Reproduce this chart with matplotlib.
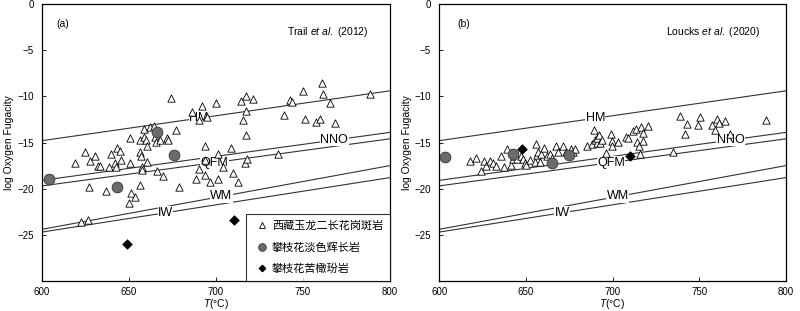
import numpy as np
from matplotlib import pyplot as plt
from matplotlib.lines import Line2D

# 缓冲剂线 (600 °C 与 800 °C 处的 log fO2)
buf_names = ['HM', 'NNO', 'QFM', 'WM', 'IW']
buf_T = [600, 800]
buf_600 = [-14.8, -19.1, -19.7, -24.4, -24.7]
buf_800 = [-9.4, -13.9, -14.6, -17.5, -18.8]
lab_T = [690, 768, 699, 703, 671]

# (a) Trail et al. (2012)
tri_T_a = [619.1, 624.9, 627.4, 627.2, 630.2, 632.0, 633.6, 636.6, 638.3, 639.8, 642.1, 642.5,
           643.1, 644.6, 645.2, 622.6, 626.4, 650.3, 650.7, 651.3, 650.1, 653.6, 656.1, 656.1,
           656.5, 657.0, 657.4, 657.4, 658.4, 658.8, 659.9, 660.3, 660.3, 661.8, 664.1, 664.7,
           665.6, 666.0, 667.9, 669.3, 671.8, 672.7, 674.1, 676.9, 679.0, 686.1, 688.6, 690.1,
           690.5, 691.9, 693.4, 693.4, 693.4, 695.1, 696.7, 700.1, 700.9, 700.9, 704.3, 708.5,
           710.0, 712.5, 714.3, 715.4, 716.7, 717.3, 717.3, 717.3, 718.1, 721.1, 735.9, 739.1,
           742.6, 743.9, 750.2, 751.1, 757.4, 759.7, 761.1, 761.3, 765.6, 768.4, 788.5]
tri_y_a = [-17.2, -16.0, -17.0, -19.8, -16.5, -17.5, -17.5, -20.3, -17.7, -16.2, -17.2, -17.7,
           -15.6, -15.9, -16.9, -23.6, -23.4, -14.5, -17.2, -20.5, -21.6, -20.9, -19.6, -14.7,
           -16.0, -16.5, -17.6, -18.0, -13.5, -14.4, -14.7, -15.4, -17.1, -13.3, -13.2, -14.4,
           -14.9, -18.1, -14.7, -18.6, -14.5, -14.7, -10.2, -13.6, -19.8, -11.7, -19.0, -12.6,
           -17.9, -11.0, -15.4, -16.9, -18.5, -12.2, -19.3, -10.7, -16.2, -19.0, -17.6, -15.6,
           -18.3, -19.3, -10.5, -12.6, -17.2, -10.0, -11.6, -14.2, -16.8, -10.3, -16.2, -12.0,
           -10.4, -10.6, -9.4, -12.4, -12.8, -12.4, -8.6, -9.7, -10.7, -12.9, -9.7]
cir_T_a = [604.2, 643.1, 666.0, 675.6]
cir_y_a = [-19.0, -19.8, -13.9, -16.3]
dia_T_a = [648.8, 710.6]
dia_y_a = [-26.0, -23.4]

# (b) Loucks et al. (2020)
tri_T_b = [617.7, 621.5, 624.0, 626.0, 627.0, 629.2, 631.2, 632.7, 635.6, 637.5, 639.2, 641.3,
           642.3, 643.3, 644.6, 647.1, 648.5, 649.4, 650.0, 652.3, 655.6, 655.2, 656.2, 657.1,
           658.1, 659.0, 660.6, 661.9, 663.8, 664.8, 667.3, 668.7, 671.5, 672.9, 676.3, 677.3,
           678.3, 685.0, 687.9, 689.2, 689.8, 690.8, 691.3, 692.3, 692.7, 694.0, 696.2, 699.0,
           699.4, 699.8, 703.3, 707.7, 709.0, 711.9, 713.5, 714.2, 715.4, 715.8, 716.2, 717.3,
           717.7, 720.2, 735.0, 738.8, 741.7, 743.1, 749.4, 750.4, 757.1, 759.0, 760.4, 761.3,
           764.8, 767.7, 788.3]
tri_y_b = [-17.0, -16.7, -18.1, -17.0, -17.5, -17.0, -17.2, -17.5, -16.5, -17.6, -15.7, -17.4,
           -16.8, -16.5, -16.8, -16.5, -16.8, -17.2, -17.4, -16.9, -15.2, -17.1, -16.3, -16.0,
           -17.1, -16.2, -15.6, -16.5, -16.2, -16.7, -15.4, -16.0, -15.4, -16.0, -15.7, -16.0,
           -15.7, -15.4, -15.2, -13.6, -14.7, -15.1, -14.5, -14.2, -15.1, -14.7, -16.1, -14.1,
           -14.8, -15.4, -14.9, -14.4, -14.5, -13.8, -13.5, -14.9, -15.4, -16.2, -13.3, -14.0,
           -14.8, -13.2, -16.0, -12.1, -14.1, -13.0, -13.1, -12.2, -13.1, -13.6, -12.4, -12.9,
           -12.7, -14.1, -12.6]
cir_T_b = [603.3, 642.7, 665.2, 675.0]
cir_y_b = [-16.6, -16.2, -17.2, -16.3]
dia_T_b = [647.9, 710.0]
dia_y_b = [-15.7, -16.5]

legend_labels = ['西藏玉龙二长花岗斑岩', '攀枝花淡色辉长岩', '攀枝花苦橄玢岩']

plt.rcParams['font.family'] = ['Liberation Sans', 'Noto Sans CJK SC', 'DejaVu Sans']
plt.rcParams['font.size'] = 7
plt.rcParams['mathtext.fontset'] = 'custom'
plt.rcParams['mathtext.rm'] = 'Liberation Sans'
plt.rcParams['mathtext.it'] = 'Liberation Sans:italic'
plt.rcParams['xtick.direction'] = 'in'
plt.rcParams['ytick.direction'] = 'in'

fig = plt.figure(figsize=(8, 3.11), dpi=100)
ax1 = fig.add_axes([0.0525, 0.0965, 0.435, 0.8905])
ax2 = fig.add_axes([0.549, 0.0965, 0.4334, 0.8905])

panels = [
    (ax1, tri_T_a, tri_y_a, cir_T_a, cir_y_a, dia_T_a, dia_y_a, '(a)', 0.06, 'Trail', '(2012)', 0.938),
    (ax2, tri_T_b, tri_y_b, cir_T_b, cir_y_b, dia_T_b, dia_y_b, '(b)', 0.072, 'Loucks', '(2020)', 0.925),
]

for ax, tT, ty, cT, cy, dT, dy, tag, tag_x, author, year, ref_x in panels:
    # 缓冲剂线
    for name, y0, y1, xl in zip(buf_names, buf_600, buf_800, lab_T):
        ax.plot(buf_T, [y0, y1], color='#333333', lw=0.8, zorder=1)
        yl = y0 + (y1 - y0) * (xl - 600) / 200
        ax.text(xl, yl, name, fontsize=9, ha='center', va='center', zorder=2,
                bbox=dict(facecolor='white', edgecolor='none', pad=0.3))

    ax.scatter(tT, ty, marker='^', s=28, facecolor='white', edgecolor='black', lw=0.6, zorder=3)
    ax.scatter(cT, cy, marker='o', s=60, facecolor='#6b6b6b', edgecolor='#333333', lw=0.6, zorder=4)
    ax.scatter(dT, dy, marker='D', s=24, facecolor='black', edgecolor='black', lw=0.5, zorder=4)

    ax.set_xlim(600, 800)
    ax.set_ylim(-30, 0)
    ax.set_xticks([600, 650, 700, 750, 800])
    ax.set_yticks([0, -5, -10, -15, -20, -25])
    ax.tick_params(axis='x', length=3, width=0.6, pad=4, labelsize=7)
    ax.tick_params(axis='y', length=3, width=0.6, pad=6, labelsize=7)
    for s in ax.spines.values():
        s.set_linewidth(0.9)
    ax.set_xlabel('$\\mathit{T}$(°C)', fontsize=7.5, labelpad=0)
    ax.set_ylabel('log Oxygen Fugacity', fontsize=7.5, labelpad=2)

    ax.text(tag_x, 0.928, tag, transform=ax.transAxes, fontsize=7.5, ha='center', va='center')
    ax.text(ref_x, 0.90, author + ' $\\mathit{et\\ al.}$ ' + year,
            transform=ax.transAxes, fontsize=7.5, ha='right', va='center')

# 图例 (仅 a)
handles = [
    Line2D([], [], ls='none', marker='^', ms=4.2, mfc='white', mec='black', mew=0.6),
    Line2D([], [], ls='none', marker='o', ms=5.5, mfc='#6b6b6b', mec='#333333', mew=0.6),
    Line2D([], [], ls='none', marker='D', ms=3.2, mfc='black', mec='black'),
]
leg = ax1.legend(handles, legend_labels, loc='lower right', bbox_to_anchor=(1.0, 0.0),
                 frameon=True, fancybox=False, edgecolor='black',
                 borderaxespad=0, handletextpad=0.05, labelspacing=1.0, borderpad=0.6,
                 handlelength=1.7,
                 prop={'family': ['Noto Sans CJK SC', 'DejaVu Sans'], 'size': 8})
leg.get_frame().set_linewidth(0.8)

fig.savefig('out.png', dpi=100)
plt.close()
